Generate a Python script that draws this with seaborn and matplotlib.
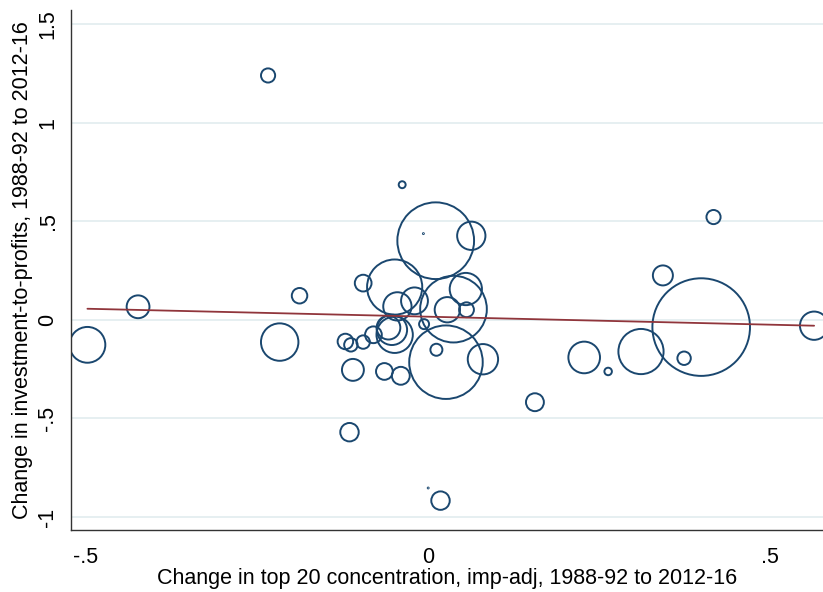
import numpy as np
import pandas as pd
import matplotlib
matplotlib.use("Agg")
import matplotlib.pyplot as plt
import seaborn as sns

# change in top-20 concentration (x), change in investment-to-profits (y), weight
conc_change = [-0.498, -0.424, -0.234, -0.217, -0.188, -0.038, 0.011, 0.063, -0.095,
               -0.049, -0.020, -0.045, 0.037, 0.055, 0.028, 0.056, -0.006, -0.049,
               -0.053, -0.058, -0.080, -0.121, -0.113, -0.095, 0.012, 0.026, 0.080,
               -0.110, -0.064, -0.040, 0.156, -0.115, 0.018, 0.417, 0.343, 0.399,
               0.311, 0.228, 0.263, 0.374, 0.564, -0.007, 0.000]
inv_change = [-0.127, 0.066, 1.239, -0.113, 0.122, 0.685, 0.401, 0.426, 0.186,
              0.166, 0.096, 0.068, 0.054, 0.156, 0.051, 0.051, -0.022, -0.076,
              -0.051, -0.040, -0.076, -0.110, -0.127, -0.113, -0.152, -0.215, -0.200,
              -0.254, -0.262, -0.284, -0.418, -0.570, -0.917, 0.521, 0.225, -0.037,
              -0.161, -0.191, -0.262, -0.195, -0.030, 0.437, -0.853]
weight = [3.2, 1.3, 0.5, 3.5, 0.6, 0.12, 14.7, 2.0, 0.7,
          7.6, 1.8, 2.0, 11.1, 2.6, 1.6, 0.55, 0.25, 3.3,
          2.3, 1.4, 0.7, 0.6, 0.45, 0.45, 0.36, 13.5, 2.3,
          1.2, 0.7, 0.8, 0.8, 0.85, 0.85, 0.5, 1.0, 23.8,
          5.1, 2.5, 0.14, 0.45, 2.0, 0.002, 0.002]

# fitted line endpoints
fit_x = [-0.498, 0.564]
fit_y = [0.056, -0.030]

df = pd.DataFrame({"conc": conc_change, "inv": inv_change, "w": weight})
fit = pd.DataFrame({"x": fit_x, "y": fit_y})

sns.set_style("white")
plt.rcParams["font.family"] = ["Liberation Sans", "DejaVu Sans"]

fig = plt.figure(figsize=(8.23, 5.92), dpi=100)
ax = fig.add_axes([71 / 823, 62 / 592, 752 / 823, 520 / 592])

navy = "#1a476f"
smax = (2 * 48.8 * 0.72) ** 2
sns.scatterplot(data=df, x="conc", y="inv", size="w", sizes=(0, smax),
                size_norm=(0, 23.8), legend=False, facecolors="none",
                edgecolor=navy, linewidth=1.4, ax=ax)
sns.lineplot(data=fit, x="x", y="y", color="#90353b", linewidth=1.3, ax=ax)

ax.set_xlim(-0.522, 0.577)
ax.set_ylim(-1.066, 1.571)
ax.set_xticks([-0.5, 0, 0.5])
ax.set_xticklabels(["-.5", "0", ".5"])
ax.set_yticks([-1, -0.5, 0, 0.5, 1, 1.5])
ax.set_yticklabels(["-1", "-.5", "0", ".5", "1", "1.5"], rotation=90, va="center")
for yv in [-1, -0.5, 0, 0.5, 1, 1.5]:
    ax.axhline(yv, color="#e6eff1", linewidth=1.4, zorder=0)

ax.tick_params(axis="both", direction="out", length=6, width=0.9, color="#333333",
               labelsize=15.5, labelcolor="black", pad=3)
ax.tick_params(axis="x", pad=6)
for s in ["top", "right"]:
    ax.spines[s].set_visible(False)
for s in ["left", "bottom"]:
    ax.spines[s].set_color("#333333")
    ax.spines[s].set_linewidth(1.0)

ax.set_xlabel("Change in top 20 concentration, imp-adj, 1988-92 to 2012-16",
              fontsize=15.5, labelpad=0, color="black")
ax.set_ylabel("Change in investment-to-profits, 1988-92 to 2012-16",
              fontsize=15.5, labelpad=3, color="black")

fig.savefig("out.png", dpi=100)
